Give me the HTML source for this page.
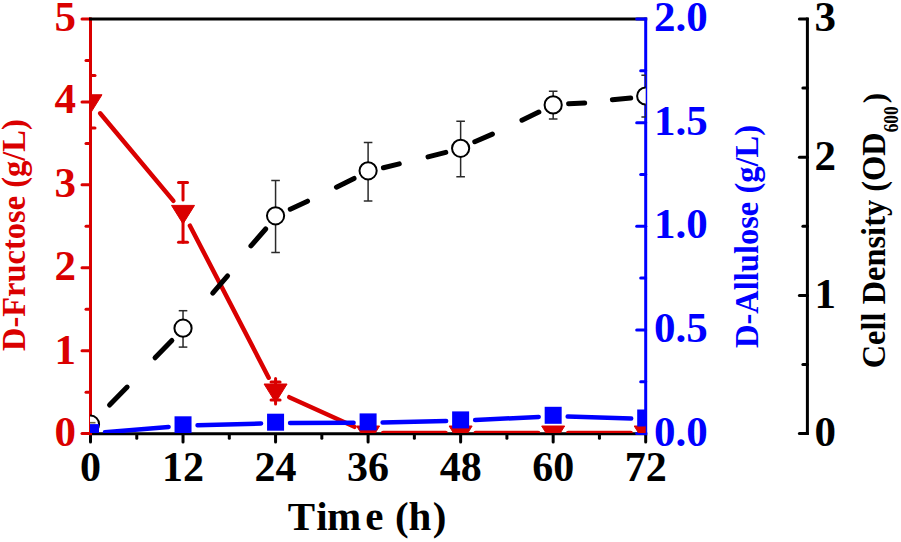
<!DOCTYPE html><html><head><meta charset="utf-8"><style>html,body{margin:0;padding:0;background:#fff;width:901px;height:542px;overflow:hidden}svg{display:block}text{font-family:"Liberation Serif",serif;font-weight:bold}</style></head><body>
<svg width="901" height="542" viewBox="0 0 901 542">
<defs><clipPath id="pc"><rect x="90" y="19" width="555.7" height="414"/></clipPath></defs>
<g stroke="#000000" stroke-width="3" stroke-linecap="round">
<line x1="89" y1="433.8" x2="647.2" y2="433.8" stroke-linecap="butt"/>
<line x1="90.5" y1="435" x2="90.5" y2="442"/>
<line x1="136.77" y1="435" x2="136.77" y2="438.3"/>
<line x1="183.03" y1="435" x2="183.03" y2="442"/>
<line x1="229.3" y1="435" x2="229.3" y2="438.3"/>
<line x1="275.57" y1="435" x2="275.57" y2="442"/>
<line x1="321.83" y1="435" x2="321.83" y2="438.3"/>
<line x1="368.1" y1="435" x2="368.1" y2="442"/>
<line x1="414.37" y1="435" x2="414.37" y2="438.3"/>
<line x1="460.63" y1="435" x2="460.63" y2="442"/>
<line x1="506.9" y1="435" x2="506.9" y2="438.3"/>
<line x1="553.17" y1="435" x2="553.17" y2="442"/>
<line x1="599.43" y1="435" x2="599.43" y2="438.3"/>
<line x1="645.7" y1="435" x2="645.7" y2="442"/>
</g>
<g stroke="#da0000" stroke-width="3" stroke-linecap="round">
<line x1="90.5" y1="17.5" x2="90.5" y2="435.3" stroke-linecap="butt"/>
<line x1="82" y1="433.6" x2="90.5" y2="433.6"/>
<line x1="86" y1="392.14" x2="90.5" y2="392.14"/>
<line x1="82" y1="350.68" x2="90.5" y2="350.68"/>
<line x1="86" y1="309.22" x2="90.5" y2="309.22"/>
<line x1="82" y1="267.76" x2="90.5" y2="267.76"/>
<line x1="86" y1="226.3" x2="90.5" y2="226.3"/>
<line x1="82" y1="184.84" x2="90.5" y2="184.84"/>
<line x1="86" y1="143.38" x2="90.5" y2="143.38"/>
<line x1="82" y1="101.92" x2="90.5" y2="101.92"/>
<line x1="86" y1="60.46" x2="90.5" y2="60.46"/>
<line x1="82" y1="19" x2="90.5" y2="19"/>
</g>
<line x1="89" y1="19" x2="647.2" y2="19" stroke="#000000" stroke-width="3"/>
<g stroke="#0000ff" stroke-width="3" stroke-linecap="round">
<line x1="645.7" y1="17.5" x2="645.7" y2="435.3" stroke-linecap="butt"/>
<line x1="636.7" y1="433.6" x2="645.7" y2="433.6"/>
<line x1="640.7" y1="381.78" x2="645.7" y2="381.78"/>
<line x1="636.7" y1="329.95" x2="645.7" y2="329.95"/>
<line x1="640.7" y1="278.12" x2="645.7" y2="278.12"/>
<line x1="636.7" y1="226.3" x2="645.7" y2="226.3"/>
<line x1="640.7" y1="174.48" x2="645.7" y2="174.48"/>
<line x1="636.7" y1="122.65" x2="645.7" y2="122.65"/>
<line x1="640.7" y1="70.82" x2="645.7" y2="70.82"/>
<line x1="636.7" y1="19" x2="645.7" y2="19"/>
</g>
<g stroke="#000000" stroke-width="3" stroke-linecap="round">
<line x1="807.4" y1="17.5" x2="807.4" y2="435.1" stroke-linecap="butt"/>
<line x1="799.4" y1="433.6" x2="807.4" y2="433.6"/>
<line x1="802.9" y1="364.5" x2="807.4" y2="364.5"/>
<line x1="799.4" y1="295.4" x2="807.4" y2="295.4"/>
<line x1="802.9" y1="226.3" x2="807.4" y2="226.3"/>
<line x1="799.4" y1="157.2" x2="807.4" y2="157.2"/>
<line x1="802.9" y1="88.1" x2="807.4" y2="88.1"/>
<line x1="799.4" y1="19" x2="807.4" y2="19"/>
</g>
<g clip-path="url(#pc)">
<g stroke="#da0000" stroke-width="4.5" stroke-linecap="round" fill="none">
<line x1="100.12" y1="113.26" x2="173.41" y2="200.89"/>
<line x1="189.93" y1="225.72" x2="268.67" y2="377.68"/>
<line x1="289.23" y1="397.2" x2="354.44" y2="426.8"/>
<line x1="383.1" y1="433" x2="445.63" y2="433"/>
<line x1="475.63" y1="433" x2="538.17" y2="433"/>
<line x1="568.17" y1="433" x2="630.7" y2="433"/>
</g>
<g stroke="#da0000" stroke-width="3" stroke-linecap="round">
<line x1="90.5" y1="75.45" x2="90.5" y2="89.25"/>
<line x1="90.5" y1="111.75" x2="90.5" y2="128.05"/>
<line x1="86" y1="75.45" x2="95" y2="75.45"/>
<line x1="86" y1="128.05" x2="95" y2="128.05"/>
<line x1="183.03" y1="182.5" x2="183.03" y2="199.9"/>
<line x1="183.03" y1="222.4" x2="183.03" y2="242.3"/>
<line x1="178.53" y1="182.5" x2="187.53" y2="182.5"/>
<line x1="178.53" y1="242.3" x2="187.53" y2="242.3"/>
<line x1="275.57" y1="378.5" x2="275.57" y2="404"/>
<line x1="271.07" y1="382" x2="280.07" y2="382"/>
<line x1="271.07" y1="400" x2="280.07" y2="400"/>
</g>
<g fill="#da0000" stroke="#da0000" stroke-width="1" stroke-linejoin="round">
<path d="M79 94.75H102L90.5 113.25Z"/>
<path d="M171.53 205.4H194.53L183.03 223.9Z"/>
<path d="M264.07 384H287.07L275.57 402.5Z"/>
<path d="M356.6 426H379.6L368.1 444.5Z"/>
<path d="M449.13 426H472.13L460.63 444.5Z"/>
<path d="M541.67 426H564.67L553.17 444.5Z"/>
<path d="M634.2 426H657.2L645.7 444.5Z"/>
</g>
<g stroke="#000000" stroke-width="5" stroke-linecap="round">
<line x1="109.55" y1="405.02" x2="127.15" y2="387.08"/>
<line x1="155.04" y1="357.81" x2="171.86" y2="340.49"/>
<line x1="212.73" y1="293.11" x2="227.57" y2="275.89"/>
<line x1="250.94" y1="245.91" x2="265.66" y2="228.99"/>
<line x1="290.27" y1="209.15" x2="307.53" y2="201.15"/>
<line x1="336.44" y1="187.19" x2="354.06" y2="178.41"/>
<line x1="383.43" y1="167.8" x2="399.27" y2="163.9"/>
<line x1="428.02" y1="156.88" x2="445.78" y2="152.32"/>
<line x1="474.79" y1="141.71" x2="492.41" y2="134.09"/>
<line x1="521.95" y1="120.22" x2="538.85" y2="112.08"/>
<line x1="568.6" y1="103.77" x2="584.7" y2="102.93"/>
<line x1="612.39" y1="99.76" x2="630.71" y2="98.04"/>
</g>
<g stroke="#2a2a2a" stroke-width="1.5">
<line x1="183.03" y1="310.7" x2="183.03" y2="347.1"/>
<line x1="178.73" y1="310.7" x2="187.33" y2="310.7"/>
<line x1="178.73" y1="347.1" x2="187.33" y2="347.1"/>
<line x1="275.57" y1="180.5" x2="275.57" y2="252.6"/>
<line x1="271.27" y1="180.5" x2="279.87" y2="180.5"/>
<line x1="271.27" y1="252.6" x2="279.87" y2="252.6"/>
<line x1="368.1" y1="142.5" x2="368.1" y2="201.1"/>
<line x1="363.8" y1="142.5" x2="372.4" y2="142.5"/>
<line x1="363.8" y1="201.1" x2="372.4" y2="201.1"/>
<line x1="460.63" y1="121.3" x2="460.63" y2="176.7"/>
<line x1="456.33" y1="121.3" x2="464.93" y2="121.3"/>
<line x1="456.33" y1="176.7" x2="464.93" y2="176.7"/>
<line x1="553.17" y1="91.3" x2="553.17" y2="119.1"/>
<line x1="548.87" y1="91.3" x2="557.47" y2="91.3"/>
<line x1="548.87" y1="119.1" x2="557.47" y2="119.1"/>
<line x1="645.7" y1="75.3" x2="645.7" y2="117"/>
<line x1="641.4" y1="75.3" x2="650" y2="75.3"/>
<line x1="641.4" y1="117" x2="650" y2="117"/>
</g>
<g fill="#fff" stroke="#000000" stroke-width="2">
<circle cx="90.5" cy="424.2" r="8.6"/>
<circle cx="183.03" cy="328.2" r="8.6"/>
<circle cx="275.57" cy="215.8" r="8.6"/>
<circle cx="368.1" cy="170.8" r="8.6"/>
<circle cx="460.63" cy="148.3" r="8.6"/>
<circle cx="553.17" cy="104.9" r="8.6"/>
<circle cx="645.7" cy="96" r="8.6"/>
</g>
<line x1="90" y1="422.7" x2="95.5" y2="422.7" stroke="#6b6440" stroke-width="1.6"/>
<g stroke="#0000ff" stroke-width="4.5" stroke-linecap="round">
<line x1="104.95" y1="432.28" x2="168.58" y2="426.92"/>
<line x1="197.53" y1="425.29" x2="261.07" y2="423.51"/>
<line x1="290.07" y1="423.05" x2="353.6" y2="422.85"/>
<line x1="382.6" y1="422.49" x2="446.14" y2="421.11"/>
<line x1="475.12" y1="420.08" x2="538.68" y2="416.92"/>
<line x1="567.66" y1="416.62" x2="631.21" y2="418.48"/>
</g>
<g fill="#0000ff">
<rect x="82" y="424.1" width="17" height="17"/>
<rect x="174.53" y="416.3" width="17" height="17"/>
<rect x="267.07" y="413.7" width="17" height="17"/>
<rect x="359.6" y="413.4" width="17" height="17"/>
<rect x="452.13" y="411.4" width="17" height="17"/>
<rect x="544.67" y="406.8" width="17" height="17"/>
<rect x="637.2" y="409.5" width="17" height="17"/>
</g>
</g>
<g font-size="43" fill="#da0000" text-anchor="end">
<text x="76" y="446.2">0</text>
<text x="76" y="363.58">1</text>
<text x="76" y="279.76">2</text>
<text x="76" y="197.34">3</text>
<text x="76" y="113.42">4</text>
<text x="76" y="30.8">5</text>
</g>
<g font-size="43" fill="#0000ff">
<text x="654" y="445.7">0.0</text>
<text x="654" y="342.05">0.5</text>
<text x="654" y="238.4">1.0</text>
<text x="654" y="134.75">1.5</text>
<text x="654" y="31.1">2.0</text>
</g>
<g font-size="43" fill="#000000">
<text x="814.6" y="446">0</text>
<text x="814.6" y="307.8">1</text>
<text x="814.6" y="169.6">2</text>
<text x="814.6" y="31.4">3</text>
</g>
<g font-size="42" fill="#000000" text-anchor="middle">
<text x="90.5" y="480.6">0</text>
<text x="183.03" y="480.6">12</text>
<text x="275.57" y="480.6">24</text>
<text x="368.1" y="480.6">36</text>
<text x="460.63" y="480.6">48</text>
<text x="553.17" y="480.6">60</text>
<text x="645.7" y="480.6">72</text>
</g>
<text x="287.82 316.26 327.12 365.33 385 395.04 408.45 432.81" y="529.6" font-size="41" fill="#000000">Time (h)</text>
<text transform="translate(25.3 351) rotate(-90)" font-size="33" textLength="231.7" lengthAdjust="spacingAndGlyphs" fill="#da0000">D-Fructose (g/L)</text>
<text transform="translate(758.2 348) rotate(-90)" font-size="34.2" textLength="223" lengthAdjust="spacingAndGlyphs" fill="#0000ff">D-Allulose (g/L)</text>
<text transform="translate(885.3 368.3) rotate(-90)" font-size="33" textLength="236" lengthAdjust="spacingAndGlyphs" fill="#000000">Cell Density (OD</text>
<text transform="translate(897.8 132.3) rotate(-90)" font-size="20" textLength="26" lengthAdjust="spacingAndGlyphs" fill="#000000">600</text>
<text transform="translate(885.3 103.3) rotate(-90)" font-size="31" textLength="10.3" lengthAdjust="spacingAndGlyphs" fill="#000000">)</text>
</svg></body></html>
